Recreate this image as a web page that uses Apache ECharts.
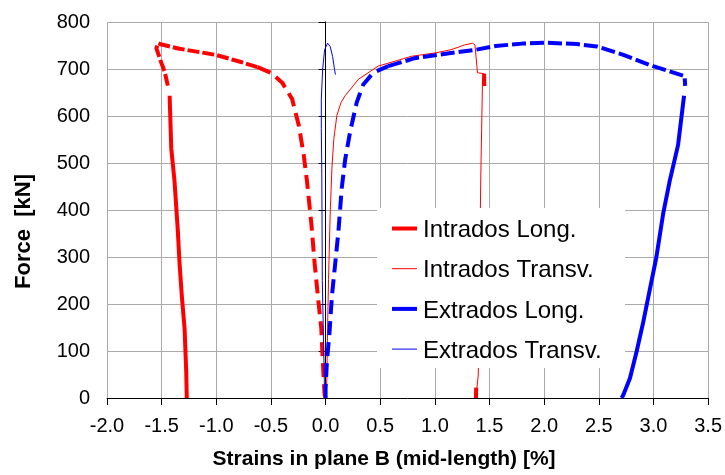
<!DOCTYPE html>
<html><head><meta charset="utf-8">
<script src="https://cdn.jsdelivr.net/npm/echarts@6/dist/echarts.min.js"></script>
<style>html,body{margin:0;padding:0;background:#fff}#c{width:725px;height:475px}</style>
</head><body><div id="c"></div>
<script>
// X tick labels / axis range
const xTicks = [-2.0,-1.5,-1.0,-0.5,0.0,0.5,1.0,1.5,2.0,2.5,3.0,3.5];
const yTicks = [0,100,200,300,400,500,600,700,800];
const seriesNames = ['Intrados Long.','Intrados Transv.','Extrados Long.','Extrados Transv.'];

// Intrados Long. (strain %, force kN) — loading, peak, unloading
const intradosLongLoad = [[0,0],[-0.009,7],[-0.027,84],[-0.039,147],[-0.07,216],[-0.1,286],[-0.13,370],[-0.17,461],[-0.2,517],[-0.245,580],[-0.306,636],[-0.397,671],[-0.5,692],[-0.624,704]];
const intradosLongPeak = [[-0.624,704],[-0.79,716],[-1.003,730],[-1.336,743],[-1.5,752],[-1.534,755],[-1.548,744],[-1.503,713],[-1.473,695],[-1.443,664]];
const intradosLongUnload = [[-1.427,643],[-1.412,531],[-1.382,461],[-1.352,356],[-1.336,286],[-1.315,216],[-1.29,147],[-1.275,56],[-1.27,0]];
const intradosLongBitA = [[1.45,690],[1.452,664]];
const intradosLongBitB = [[1.378,22],[1.376,0]];

// Intrados Transv.
const intradosTransv = [[0.005,0],[0.012,42],[0.018,147],[0.027,252],[0.042,391],[0.058,489],[0.075,550],[0.103,601],[0.14,628],[0.179,643],[0.3,678],[0.48,706],[0.785,727],[0.845,729],[0.997,734],[1.148,741],[1.27,751],[1.345,755],[1.367,751],[1.39,692],[1.45,690],[1.436,678],[1.42,468],[1.397,49],[1.376,0]];

// Extrados Long.
const extradosLongLoad = [[0,0],[0,21],[0.012,77],[0.036,140],[0.058,217],[0.088,286],[0.118,356],[0.148,447],[0.179,507],[0.224,566],[0.285,629],[0.345,667],[0.436,692],[0.573,706]];
const extradosLongPeak = [[0.573,706],[0.815,723],[1.148,734],[1.376,741],[1.557,749],[1.8,754],[2.0,756],[2.118,755],[2.3,753],[2.482,748],[2.725,730],[2.997,706],[3.285,685],[3.29,664]];
const extradosLongUnload = [[3.28,643],[3.225,538],[3.148,461],[3.088,391],[3.027,300],[2.967,231],[2.906,161],[2.845,98],[2.785,42],[2.725,7],[2.709,0]];

// Extrados Transv.
const extradosTransv = [[0,0],[-0.009,7],[-0.018,112],[-0.03,250],[-0.033,400],[-0.035,489],[-0.039,573],[-0.039,636],[-0.027,699],[-0.009,741],[0.018,755],[0.042,748],[0.064,727],[0.082,699],[0.09,688]];

const RED = '#ff0000', BLUE = '#0000ff';
const legendColors = [RED, RED, BLUE, BLUE];
const legendWidths = [4, 1, 4, 1];

function ln(name, data, color, width, type) {
  return {name, type:'line', data, symbol:'none', showSymbol:false, animation:false,
    lineStyle:{color, width, type: type || 'solid', cap:'butt', join:'round'}, itemStyle:{color}};
}

// legend drawn as graphic (box, keys, labels)
const legendEls = [{type:'rect', shape:{x:377, y:208, width:248, height:160}, style:{fill:'#ffffff'}, z:100}];
seriesNames.forEach((n, i) => {
  const cy = 228.5 + i * 40.2;
  legendEls.push({type:'line', shape:{x1:392, y1:cy, x2:417, y2:cy}, style:{stroke:legendColors[i], lineWidth:legendWidths[i]}, z:101});
  legendEls.push({type:'text', x:423, y:230.6 + i * 40.2, style:{text:n, fill:'#000', font:'24px "Liberation Sans"', textVerticalAlign:'middle', textAlign:'left'}, z:101});
});

const chart = echarts.init(document.getElementById('c'));
chart.setOption({
  animation:false,
  grid:{left:107, right:15, top:22, bottom:72},
  xAxis:{type:'value', min:xTicks[0], max:xTicks[xTicks.length-1], interval:0.5,
    axisLine:{show:true, onZero:false, lineStyle:{color:'#000', width:1}},
    axisTick:{show:true, length:7, inside:false, lineStyle:{color:'#000'}},
    axisLabel:{margin:18, fontFamily:'Liberation Sans', fontSize:20, color:'#000', showMinLabel:true, showMaxLabel:true,
      formatter:v=>v.toFixed(1)},
    splitLine:{show:true, lineStyle:{color:'#aaaaaa', width:1}},
    name:'Strains in plane B (mid-length) [%]', nameLocation:'middle', nameGap:51,
    nameTextStyle:{fontFamily:'Liberation Sans', fontWeight:'bold', fontSize:21, color:'#000', padding:[0,47,0,0]}},
  yAxis:{type:'value', min:yTicks[0], max:yTicks[yTicks.length-1], interval:100,
    axisLine:{show:true, lineStyle:{color:'#000', width:1}},
    axisTick:{show:true, length:7, lineStyle:{color:'#000'}},
    axisLabel:{margin:17, fontFamily:'Liberation Sans', fontSize:20, color:'#000'},
    splitLine:{show:true, lineStyle:{color:'#aaaaaa', width:1}},
    name:'Force  [kN]', nameLocation:'middle', nameGap:72,
    nameTextStyle:{fontFamily:'Liberation Sans', fontWeight:'bold', fontSize:22, color:'#000', padding:[0,43,0,0]}},
  legend:{show:false},
  graphic:legendEls,
  series:[
    ln(seriesNames[0], intradosLongUnload, RED, 4),
    ln(seriesNames[0], intradosLongPeak, RED, 4, [12,3]),
    ln(seriesNames[0], intradosLongLoad, RED, 4, [14,7]),
    ln(seriesNames[0], intradosLongBitA, RED, 4),
    ln(seriesNames[0], intradosLongBitB, RED, 4),
    ln(seriesNames[1], intradosTransv, RED, 1),
    ln(seriesNames[2], extradosLongUnload, BLUE, 4),
    ln(seriesNames[2], extradosLongPeak, BLUE, 4, [14,4]),
    ln(seriesNames[2], extradosLongLoad, BLUE, 4, [14,7]),
    ln(seriesNames[3], extradosTransv, BLUE, 1)
  ]
});
</script></body></html>
